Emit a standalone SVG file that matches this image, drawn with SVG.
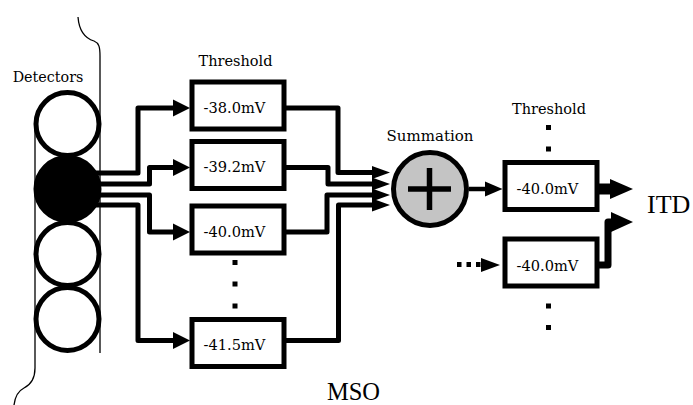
<svg xmlns="http://www.w3.org/2000/svg" width="693" height="405" viewBox="0 0 693 405">
<style>
text{font-family:'DejaVu Serif',serif;fill:#000}
.lbl{font-size:14.5px;text-anchor:middle}
.val{font-size:14.6px;text-anchor:middle}
.big{font-family:'Liberation Serif','DejaVu Serif',serif}
.box{fill:#fff;stroke:#000;stroke-width:5}
.det{fill:#fff;stroke:#000;stroke-width:5}
.wire{fill:none;stroke:#000;stroke-width:5;stroke-linejoin:round}
.thin{fill:none;stroke:#000;stroke-width:1.3}
.dot{fill:#000}
</style>
<g id="detectors">
<path class="thin" d="M78,17 C79,30 84,38 94,41 C99,43 100,47 100,56 V353"/>
<path class="thin" d="M35,122 V368 C35,380 30,385 24,388 C18,391 15,397 14,405"/>
<circle class="det" cx="67.5" cy="124" r="31.5"/>
<circle class="det" cx="67.5" cy="254" r="31.5"/>
<circle class="det" cx="67.5" cy="319" r="31.5"/>
<circle class="det" cx="67.5" cy="189" r="31.5" style="fill:#000"/>
<text class="lbl" x="48" y="82" style="font-size:14.3px">Detectors</text>
</g>
<g id="connectors">
<path class="wire" d="M92,173 H138 V108 H176"/>
<path class="wire" d="M92,184 H149.5 V167.5 H176"/>
<path class="wire" d="M92,195 H149.5 V232 H176"/>
<path class="wire" d="M92,205 H138 V340.5 H176"/>
<polygon points="173,99.5 190,108 173,116.5"/>
<polygon points="173,159 190,167.5 173,176"/>
<polygon points="173,223.5 190,232 173,240.5"/>
<polygon points="173,332 190,340.5 173,349"/>
<path class="wire" d="M284,108 H338 V172.5 H376"/>
<path class="wire" d="M284,167.5 H328 V184 H376"/>
<path class="wire" d="M284,232 H327 V195 H376"/>
<path class="wire" d="M284,340.5 H338.5 V205 H376"/>
<polygon points="372,166 390,172.5 372,179"/>
<polygon points="372,177.5 390,184 372,190.5"/>
<polygon points="372,188.5 390,195 372,201.5"/>
<polygon points="372,198.5 390,205 372,211.5"/>
<path class="wire" d="M469,189 H488" style="stroke-width:4.5"/>
<polygon points="485,181.5 502.5,189 485,196.5"/>
<path class="wire" d="M597,189 H612" style="stroke-width:11"/>
<polygon points="610,179 633,189 610,199"/>
<path class="wire" d="M597,265 H608 V222 H614" style="stroke-width:7"/>
<polygon points="611,212 633,222 611,232"/>
<rect class="dot" x="457" y="262" width="4.5" height="5"/>
<rect class="dot" x="466.5" y="262" width="4.5" height="5"/>
<rect class="dot" x="476" y="262" width="4.5" height="5"/>
<polygon points="481,258 500,265 481,272"/>
</g>
<g id="threshold1">
<text class="lbl" x="235.5" y="66">Threshold</text>
</g>
<g id="box1">
<rect class="box" x="192" y="82" width="92" height="47"/>
<text class="val" x="234.5" y="112.5">-38.0mV</text>
</g>
<g id="box2">
<rect class="box" x="192" y="141.5" width="92" height="47"/>
<text class="val" x="234.5" y="172">-39.2mV</text>
</g>
<g id="box3">
<rect class="box" x="192" y="206" width="92" height="47"/>
<text class="val" x="234.5" y="236.5">-40.0mV</text>
</g>
<g id="dots1">
<rect class="dot" x="232.5" y="260" width="5" height="5"/>
<rect class="dot" x="232.5" y="281.5" width="5" height="5"/>
<rect class="dot" x="232.5" y="303.5" width="5" height="5"/>
</g>
<g id="box4">
<rect class="box" x="192" y="319.5" width="92" height="47"/>
<text class="val" x="234.5" y="350">-41.5mV</text>
</g>
<g id="summation">
<text class="lbl" x="430" y="141" style="font-size:15px">Summation</text>
<circle cx="430" cy="189" r="36.5" fill="#c4c4c4" stroke="#000" stroke-width="5"/>
<path d="M408,189 H451 M429.5,168 V210" stroke="#000" stroke-width="5.5" fill="none"/>
</g>
<g id="threshold2">
<text class="lbl" x="549" y="114">Threshold</text>
<rect class="dot" x="546" y="125" width="5" height="5"/>
<rect class="dot" x="546" y="146.5" width="5" height="5"/>
</g>
<g id="box5">
<rect class="box" x="505" y="162.5" width="92" height="47"/>
<text class="val" x="547.5" y="194">-40.0mV</text>
</g>
<g id="box6">
<rect class="box" x="505" y="239" width="92" height="47"/>
<text class="val" x="547.5" y="270.5">-40.0mV</text>
<rect class="dot" x="546" y="303.5" width="5" height="5"/>
<rect class="dot" x="546" y="325" width="5" height="5"/>
</g>
<g id="itd">
<text class="big" x="647" y="213" style="font-size:26px">ITD</text>
</g>
<g id="mso">
<text class="big" x="353.5" y="400" style="font-size:24.5px;text-anchor:middle">MSO</text>
</g>
</svg>
